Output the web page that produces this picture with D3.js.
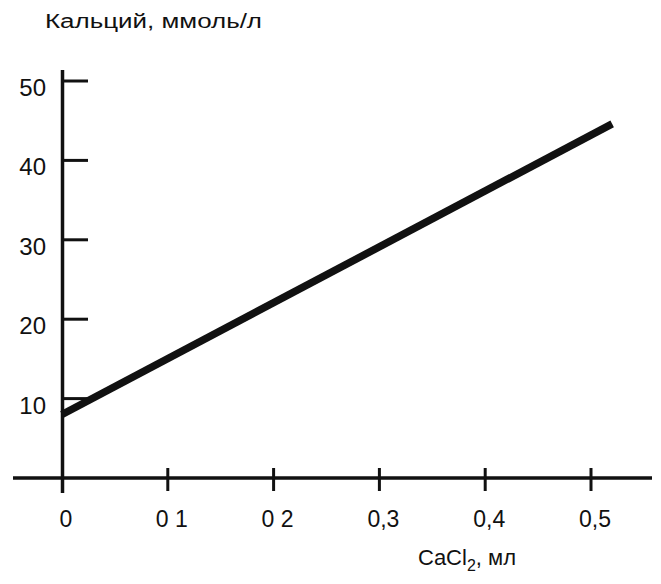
<!DOCTYPE html>
<html>
<head>
<meta charset="utf-8">
<script src="https://cdn.jsdelivr.net/npm/d3@7"></script>
<style>
  html, body { margin: 0; padding: 0; background: #fff; }
  svg { display: block; }
  text { font-family: "Liberation Sans", Arial, sans-serif; fill: #111; }
</style>
</head>
<body>
<svg id="chart" width="661" height="584"></svg>
<script>
// Calcium concentration vs. added CaCl2 volume
const xTicks = [0, 0.1, 0.2, 0.3, 0.4, 0.5];
const xTickLabels = ["0", "0 1", "0 2", "0,3", "0,4", "0,5"];
const yTicks = [10, 20, 30, 40, 50];
const yTickLabels = ["10", "20", "30", "40", "50"];
const cacl2 = [0, 0.52];        // ml
const calcium = [8, 44.6];      // mmol/l

const svg = d3.select("#chart");
const x = d3.scaleLinear().domain([0, 0.5]).range([62, 591]);
const y = d3.scaleLinear().domain([0, 50]).range([478, 81]);

const ink = "#111";

// axes lines
svg.append("line")
  .attr("x1", 13).attr("x2", 652)
  .attr("y1", y(0)).attr("y2", y(0))
  .attr("stroke", ink).attr("stroke-width", 3.5);
svg.append("line")
  .attr("x1", x(0) + 0.5).attr("x2", x(0) + 0.5)
  .attr("y1", 70).attr("y2", 493)
  .attr("stroke", ink).attr("stroke-width", 3.5);

// y ticks (pointing right) and labels
svg.selectAll(".ytick").data(yTicks).join("line")
  .attr("class", "ytick")
  .attr("x1", x(0)).attr("x2", x(0) + 26)
  .attr("y1", d => y(d)).attr("y2", d => y(d))
  .attr("stroke", ink).attr("stroke-width", 3);
svg.selectAll(".ylab").data(yTicks).join("text")
  .attr("class", "ylab")
  .attr("x", 46)
  .attr("y", d => y(d) + 15)
  .attr("text-anchor", "end")
  .attr("font-size", 24)
  .text((d, i) => yTickLabels[i]);

// x ticks (crossing the axis) and labels
svg.selectAll(".xtick").data(xTicks.slice(1)).join("line")
  .attr("class", "xtick")
  .attr("x1", d => x(d)).attr("x2", d => x(d))
  .attr("y1", y(0) - 10).attr("y2", y(0) + 13)
  .attr("stroke", ink).attr("stroke-width", 3);
svg.selectAll(".xlab").data(xTicks).join("text")
  .attr("class", "xlab")
  .attr("x", d => x(d) + 4)
  .attr("y", 527)
  .attr("text-anchor", "middle")
  .attr("font-size", 23)
  .text((d, i) => xTickLabels[i]);

// data line
const line = d3.line().x(d => x(d[0])).y(d => y(d[1]));
svg.append("path")
  .datum(d3.zip(cacl2, calcium))
  .attr("d", line)
  .attr("fill", "none")
  .attr("stroke", ink)
  .attr("stroke-width", 7.5)
  .attr("stroke-linecap", "butt");

// axis titles
svg.append("text")
  .attr("x", 45).attr("y", 28)
  .attr("font-size", 20)
  .attr("textLength", 217).attr("lengthAdjust", "spacingAndGlyphs")
  .text("Кальций, ммоль/л");

const xt = svg.append("text")
  .attr("x", 418).attr("y", 565)
  .attr("font-size", 22);
xt.append("tspan").text("CaCl");
xt.append("tspan").attr("font-size", 16).attr("dy", 6).text("2");
xt.append("tspan").attr("dy", -6).text(", мл");
</script>
</body>
</html>
